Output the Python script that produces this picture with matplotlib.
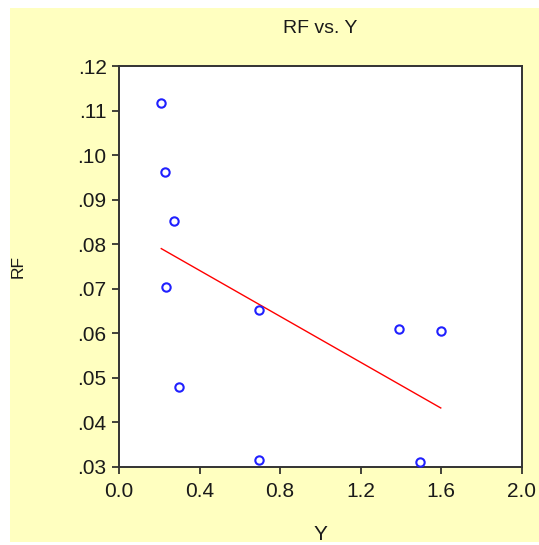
import numpy as np
import matplotlib
matplotlib.use("Agg")
import matplotlib.pyplot as plt
from matplotlib.patches import Rectangle
from matplotlib.ticker import FuncFormatter

# data
y_vals = [0.210, 0.226, 0.271, 0.235, 0.696, 0.296, 0.696, 1.390, 1.598, 1.494]
rf_vals = [0.1117, 0.0963, 0.0853, 0.0704, 0.0652, 0.0480, 0.0315, 0.0609, 0.0606, 0.0311]
x_ticks = [0.0, 0.4, 0.8, 1.2, 1.6, 2.0]
y_ticks = [0.03, 0.04, 0.05, 0.06, 0.07, 0.08, 0.09, 0.10, 0.11, 0.12]

plt.rcParams['font.family'] = ['Liberation Sans', 'DejaVu Sans']

W, H = 539, 545
fig = plt.figure(figsize=(W / 100, H / 100), dpi=100)
fig.patch.set_facecolor('white')
bg = Rectangle((10 / W, 3 / H), 1 - 10 / W, 1 - 11 / H, transform=fig.transFigure,
               facecolor='#ffffc0', edgecolor='none', zorder=-10)
fig.add_artist(bg)

ax = fig.add_axes([119 / W, 78 / H, (521.7 - 119) / W, (467 - 66) / H])
ax.set_zorder(1)
ax.set_facecolor('white')

x = np.array(y_vals)
y = np.array(rf_vals)
ax.plot(x, y, linestyle='none', marker='o', markersize=6, markerfacecolor='none',
        markeredgecolor='#2020ff', markeredgewidth=1.5, zorder=3)

b, a = np.polyfit(x, y, 1)
xs = np.array([x.min(), x.max()])
ax.plot(xs, a + b * xs, color='#ff0000', linewidth=1.0, zorder=2)

ax.set_xlim(0.0, 2.0)
ax.set_ylim(0.03, 0.12)
ax.set_xticks(x_ticks)
ax.set_yticks(y_ticks)
ax.xaxis.set_major_formatter(FuncFormatter(lambda v, p: f"{v:.1f}"))
ax.yaxis.set_major_formatter(FuncFormatter(lambda v, p: f"{v:.2f}".lstrip('0')))
ax.tick_params(direction='out', length=5, width=1.2, colors='#222222', labelsize=15,
               labelcolor='#1a1a1a')
ax.tick_params(axis='x', pad=6)
ax.tick_params(axis='y', pad=4)
for s in ax.spines.values():
    s.set_color('#333333')
    s.set_linewidth(1.4)

ax.set_title('RF vs. Y', fontsize=14, color='#1a1a1a', pad=24)
ax.set_xlabel('Y', fontsize=15, color='#1a1a1a', labelpad=17)
ax.set_ylabel('RF', fontsize=12.5, color='#1a1a1a', labelpad=37)

fig.savefig('out.png', dpi=100, facecolor=fig.get_facecolor())
